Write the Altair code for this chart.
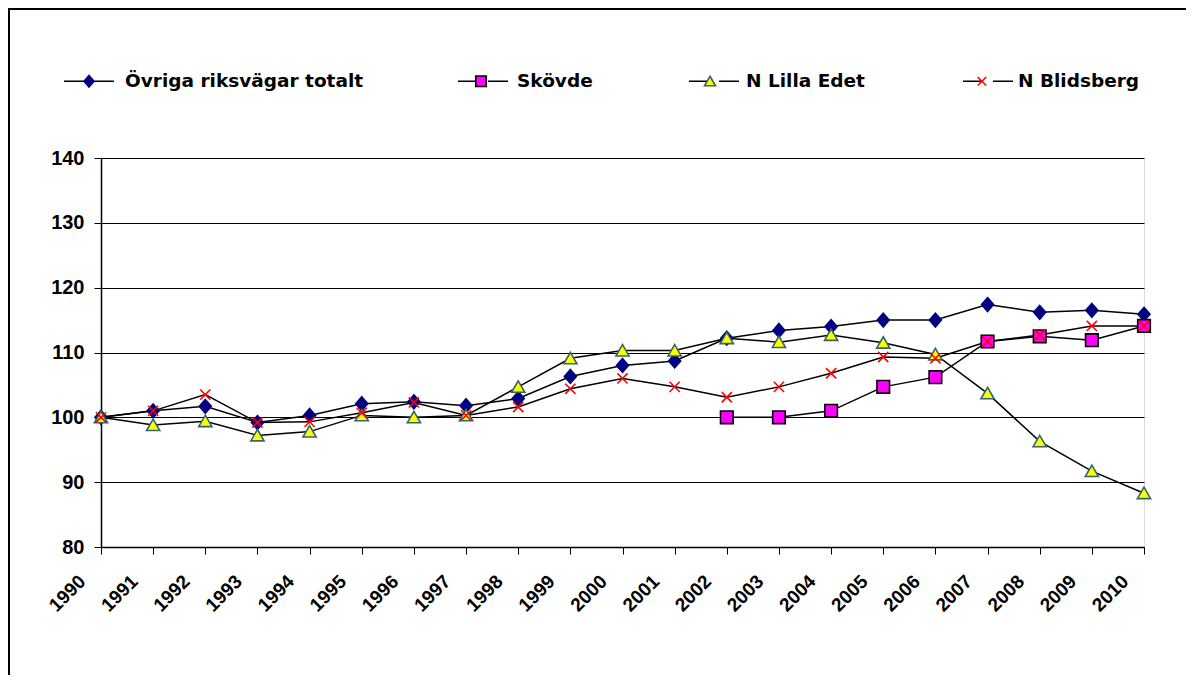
import altair as alt
import pandas as pd

years = [str(y) for y in range(1990, 2011)]
series = ["Övriga riksvägar totalt", "Skövde", "N Lilla Edet", "N Blidsberg"]

ovriga = [100, 101.0, 101.7, 99.2, 100.3, 102.1, 102.4, 101.8, 102.9, 106.3, 108.0,
          108.7, 112.2, 113.4, 114.0, 115.0, 115.0, 117.4, 116.2, 116.5, 115.9]
skovde = [None] * 12 + [100, 100, 101.0, 104.7, 106.2, 111.7, 112.5, 111.9, 114.1]
lilla = [100, 98.8, 99.4, 97.2, 97.8, 100.3, 100.0, 100.3, 104.7, 109.1, 110.3,
         110.3, 112.2, 111.6, 112.7, 111.5, 109.7, 103.7, 96.3, 91.7, 88.3]
blids = [100, 101.0, 103.5, 99.2, 99.3, 100.7, 102.3, 100.3, 101.6, 104.4, 106.0,
         104.7, 103.1, 104.7, 106.8, 109.3, 109.1, 111.7, 112.7, 114.1, 114.1]

y_ticks = [80, 90, 100, 110, 120, 130, 140]

fills = ["#000080", "#FF00FF", "#FFFF00", "#FF0000"]
strokes = ["#000080", "#000000", "#336666", "#FF0000"]
shapes = [
    "M0,-0.23L0.2,0L0,0.23L-0.2,0Z",
    "M-0.21,-0.21H0.21V0.21H-0.21Z",
    "M0,-0.2L0.22,0.18L-0.22,0.18Z",
    "M-0.17,-0.17L0.17,0.17M-0.17,0.17L0.17,-0.17",
]

# line-legend keys carry a 2-char prefix so the two legends stay separate
series_l = ["L:" + s for s in series]

rows = []
for name, vals in zip(series, [ovriga, skovde, lilla, blids]):
    for yr, v in zip(years, vals):
        if v is not None:
            rows.append({"year": yr, "value": v, "serie": name, "serie_l": "L:" + name})
df = pd.DataFrame(rows)

W, H = 1043, 389
PAD = {"left": 93, "top": 150, "right": 42, "bottom": 128}

leg_common = dict(
    orient="none", legendX=-38, legendY=-103, direction="horizontal", columns=4,
    title=None, symbolSize=2500, labelFont="DejaVu Sans", labelFontWeight="bold",
    labelFontSize=18.5, labelColor="black", labelOffset=10, labelLimit=400,
    columnPadding=91, padding=0, symbolOpacity=1,
)
leg_points = alt.Legend(symbolStrokeWidth=1.6, **leg_common)
leg_lines = alt.Legend(symbolType="M-1,0H-0.2M0.2,0H1", symbolStrokeWidth=1.5,
                       labelOpacity=0, labelExpr="substring(datum.label, 2)",
                       **leg_common)

x_enc = alt.X(
    "year:O",
    scale=alt.Scale(type="point", padding=0, domain=years),
    axis=alt.Axis(title=None, labelAngle=-45, labelAlign="right", labelBaseline="middle",
                  labelOffset=-19, labelPadding=24, tickSize=7, tickColor="black",
                  domainColor="black", domainWidth=1.5, grid=False,
                  labelFont="Liberation Sans", labelFontWeight="bold", labelFontSize=19,
                  labelColor="black"),
)
y_enc = alt.Y(
    "value:Q",
    scale=alt.Scale(domain=[80, 140], nice=False, zero=False),
    axis=alt.Axis(title=None, values=y_ticks, grid=True, gridColor="black", gridWidth=1,
                  gridOpacity=1, domainColor="black", domainWidth=1.5, tickColor="black",
                  tickSize=7, labelPadding=10, labelFont="Liberation Sans",
                  labelFontWeight="bold", labelFontSize=20, labelColor="black"),
)

base = alt.Chart(df)

lines = base.mark_line(strokeWidth=1.5).encode(
    x=x_enc,
    y=y_enc,
    color=alt.Color("serie_l:N", scale=alt.Scale(domain=series_l, range=["black"] * 4),
                    legend=leg_lines),
    detail="serie:N",
)

points = base.mark_point(filled=True, size=3600, strokeWidth=1.6, opacity=1).encode(
    x=x_enc,
    y=y_enc,
    shape=alt.Shape("serie:N", scale=alt.Scale(domain=series, range=shapes), legend=leg_points),
    fill=alt.Fill("serie:N", scale=alt.Scale(domain=series, range=fills), legend=leg_points),
    stroke=alt.Stroke("serie:N", scale=alt.Scale(domain=series, range=strokes), legend=leg_points),
)

border_top = alt.Chart(alt.Data(values=[{}])).mark_rule(color="black", strokeWidth=2).encode(
    x=alt.value(-PAD["left"]), x2=alt.value(W + PAD["right"]), y=alt.value(-PAD["top"] + 1)
)
border_left = alt.Chart(alt.Data(values=[{}])).mark_rule(color="black", strokeWidth=2).encode(
    x=alt.value(-PAD["left"] + 1), y=alt.value(-PAD["top"]), y2=alt.value(H + PAD["bottom"])
)

chart = alt.layer(border_top, border_left, lines, points).properties(
    width=W, height=H,
    autosize=alt.AutoSizeParams(type="none"),
    padding=PAD,
).resolve_legend(color="independent", shape="independent", fill="independent",
                 stroke="independent").configure_view(stroke="transparent").configure(
    font="Liberation Sans")

chart.save("out.html", embed_options={"renderer": "svg", "actions": False})
